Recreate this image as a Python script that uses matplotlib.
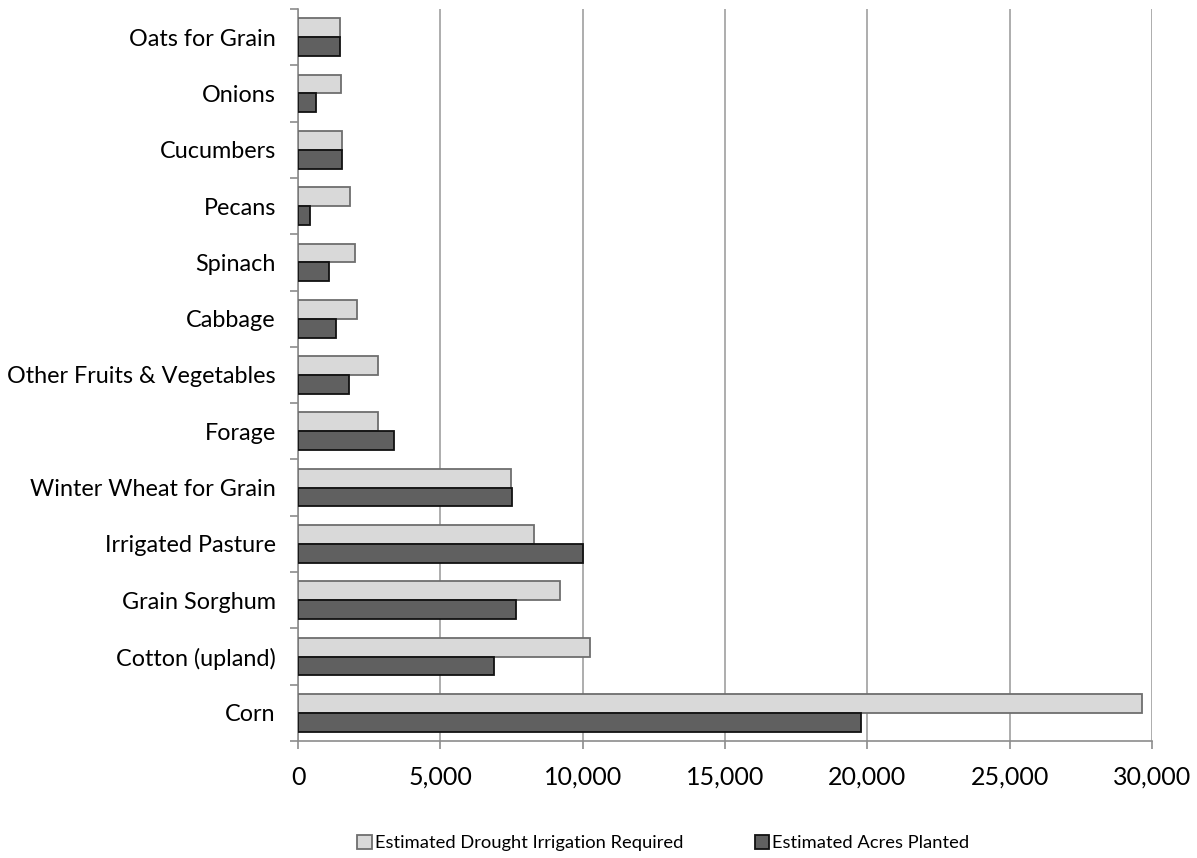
import matplotlib.pyplot as plt
import numpy as np

plt.rcParams['font.family'] = ['Lato', 'DejaVu Sans']

crops = ['Corn', 'Cotton (upland)', 'Grain Sorghum', 'Irrigated Pasture',
         'Winter Wheat for Grain', 'Forage', 'Other Fruits & Vegetables',
         'Cabbage', 'Spinach', 'Pecans', 'Cucumbers', 'Onions', 'Oats for Grain']
irrigation = [29630, 10260, 9200, 8300, 7490, 2800, 2800, 2060, 2000, 1840, 1530, 1520, 1470]
acres = [19780, 6870, 7670, 10000, 7520, 3370, 1790, 1320, 1100, 410, 1530, 620, 1470]

fig = plt.figure(figsize=(11.97, 8.58), dpi=100)
ax = fig.add_axes([0.249, 0.1364, 0.7135, 0.8531])

y = np.arange(len(crops))
h = 0.335
ax.barh(y + h / 2, irrigation, height=h, color='#d9d9d9', edgecolor='#6e6e6e',
        linewidth=1.3, label='Estimated Drought Irrigation Required', zorder=3)
ax.barh(y - h / 2, acres, height=h, color='#606060', edgecolor='#111111',
        linewidth=1.3, label='Estimated Acres Planted', zorder=3)

ax.set_xlim(0, 30000)
ax.set_ylim(-0.5, len(crops) - 0.5)
ax.set_xticks(np.arange(0, 30001, 5000))
ax.set_xticklabels([f'{v:,}' for v in range(0, 30001, 5000)])
ax.set_yticks(y)
ax.set_yticklabels(crops)
ax.set_yticks(np.arange(-0.5, len(crops), 1), minor=True)
ax.tick_params(axis='y', which='major', length=0, pad=16, labelsize=16.8)
ax.tick_params(axis='y', which='minor', length=6, width=1.2, color='#8c8c8c', direction='out')
ax.tick_params(axis='x', length=6, width=1.2, color='#8c8c8c', pad=12, labelsize=18)

ax.grid(axis='x', color='#a0a0a0', linewidth=1.2, zorder=0)
for s in ['top', 'right']:
    ax.spines[s].set_visible(False)
for s in ['left', 'bottom']:
    ax.spines[s].set_color('#8c8c8c')
    ax.spines[s].set_linewidth(1.2)

fig.legend(loc='center', bbox_to_anchor=(0.554, 0.0175), ncol=2, frameon=False,
           fontsize=13.2, handlelength=0.8, handleheight=0.8, handletextpad=0.15,
           columnspacing=3.9)

fig.savefig('out.png', dpi=100)
